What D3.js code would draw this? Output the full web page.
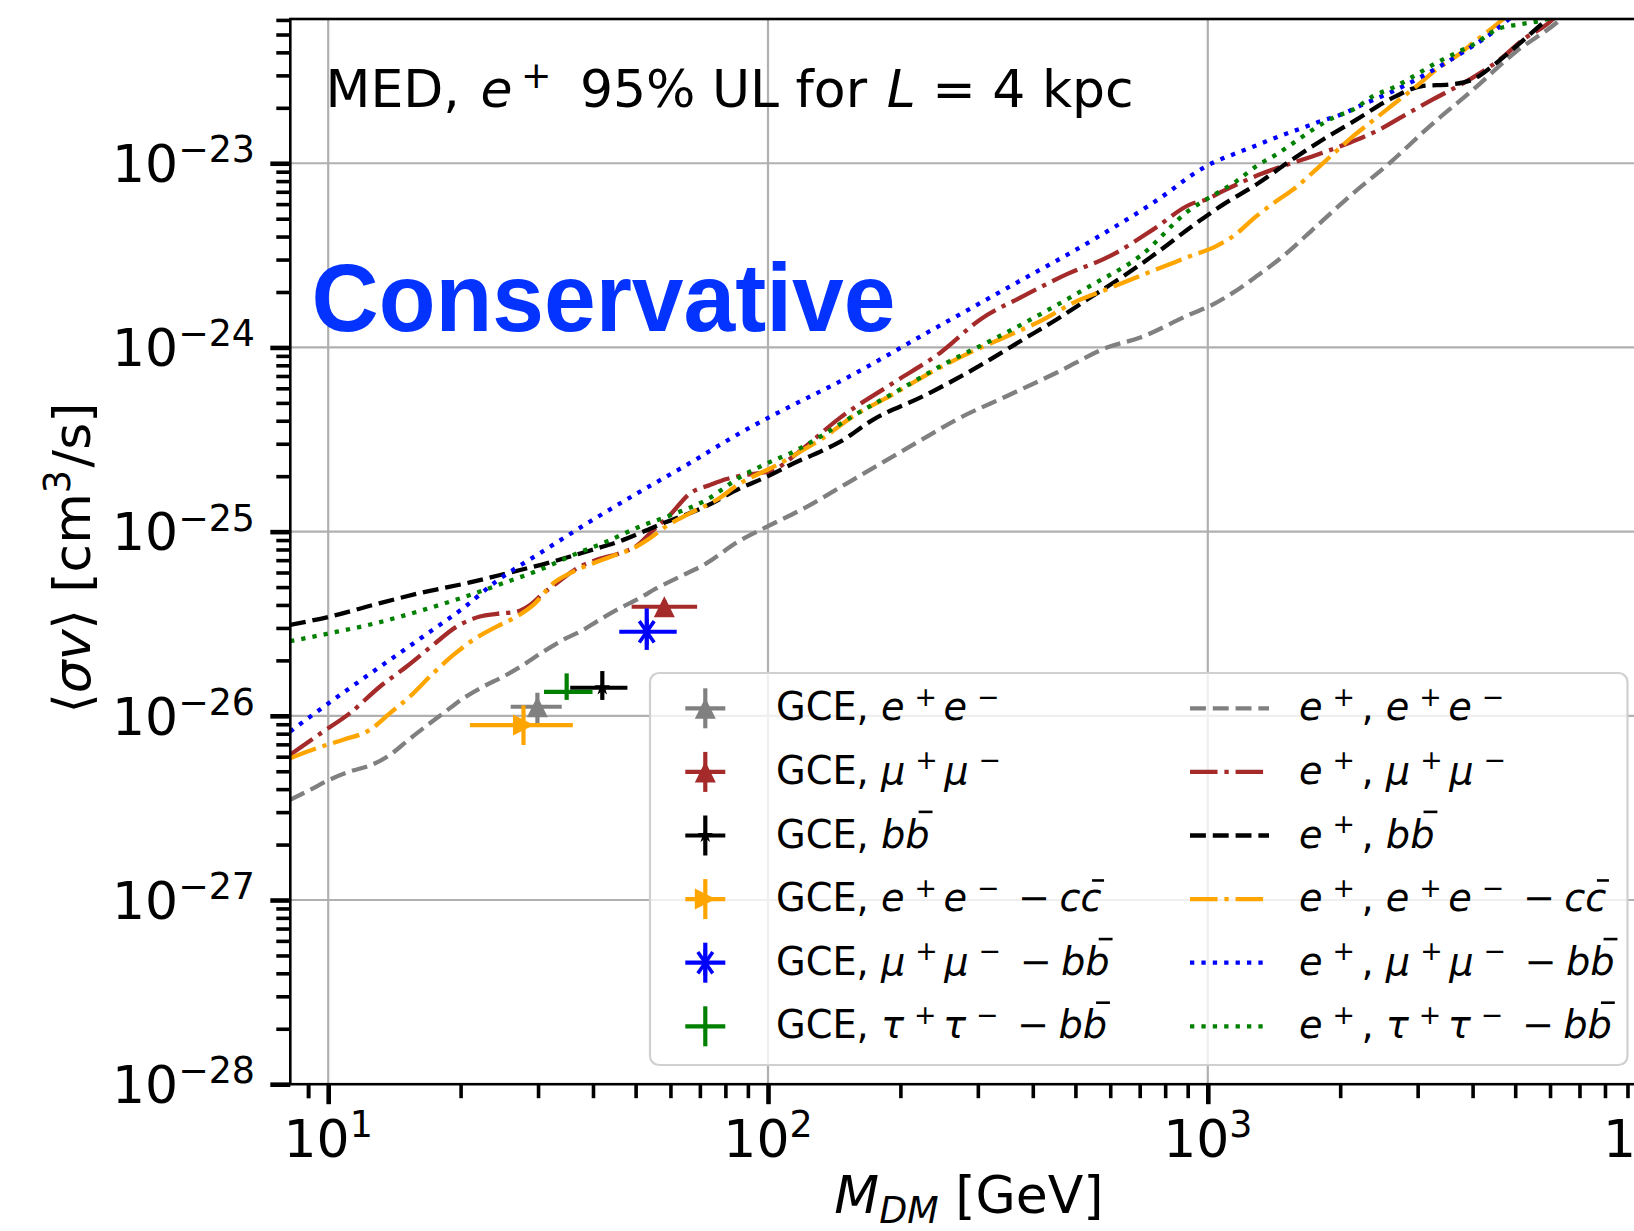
<!DOCTYPE html>
<html>
<head>
<meta charset="utf-8">
<script src="https://cdn.jsdelivr.net/npm/d3@7/dist/d3.min.js"></script>
<style>
html,body{margin:0;padding:0;background:#fff;overflow:hidden;}
svg{display:block;}
</style>
</head>
<body>
<svg id="chart" width="1634" height="1231" xmlns="http://www.w3.org/2000/svg"></svg>
<script>
// ---------------- data ----------------
const xDomain = [8.2, 1e4];
const yDomain = [1e-28, 6.07e-23];
const xMajorTicks = [10, 100, 1000, 10000];
const xTickExps = ['1', '2', '3', '4'];
const yMajorTicks = [1e-28, 1e-27, 1e-26, 1e-25, 1e-24, 1e-23];
const yTickExps = ['−28', '−27', '−26', '−25', '−24', '−23'];

// e+ upper limits [M_DM (GeV), <sigma v> (cm^3/s)]
const ulEE = [[8.19,3.50e-27],[9.09,3.96e-27],[10.0,4.46e-27],[11.21,4.99e-27],[12.56,5.42e-27],[13.82,6.14e-27],[15.08,7.26e-27],[16.46,8.57e-27],[18.27,1.033e-26],[20.29,1.246e-26],[22.53,1.442e-26],[25.01,1.633e-26],[27.78,1.89e-26],[30.84,2.23e-26],[34.25,2.59e-26],[38.03,2.93e-26],[40.77,3.25e-26],[45.28,3.76e-26],[50.28,4.27e-26],[55.84,4.93e-26],[63.1,5.70e-26],[72.55,6.74e-26],[84.9,8.73e-26],[99.5,1.064e-25],[122.7,1.367e-25],[151.2,1.83e-25],[186.5,2.45e-25],[229.9,3.28e-25],[269,4.07e-25],[349.5,5.45e-25],[454,7.31e-25],[589.9,9.98e-25],[702.3,1.132e-24],[912.7,1.514e-24],[1012,1.68e-24],[1144,1.99e-24],[1292,2.44e-24],[1486,3.14e-24],[1769,4.57e-24],[2107,6.65e-24],[2598,1.009e-23],[3203,1.596e-23],[4019,2.52e-23],[5042,4.07e-23],[6217,5.81e-23],[6783,7.0e-23]];
const ulMuMu = [[8.19,6.14e-27],[9.75,8.22e-27],[11.21,1.035e-26],[13.12,1.443e-26],[15.08,1.853e-26],[17.34,2.43e-26],[19.59,3.05e-26],[22.14,3.46e-26],[24.16,3.58e-26],[26.83,3.68e-26],[28.77,4.0e-26],[30.84,4.63e-26],[33.07,5.25e-26],[37.37,6.47e-26],[40.78,7.03e-26],[46.08,7.64e-26],[50.28,8.37e-26],[54.87,1.021e-25],[59.86,1.232e-25],[66.5,1.615e-25],[73.8,1.79e-25],[80.5,1.93e-25],[86.4,2.01e-25],[92.8,2.06e-25],[103,2.16e-25],[116.4,2.66e-25],[146,4.16e-25],[193.1,6.44e-25],[246.5,9.37e-25],[303.9,1.42e-24],[381.4,1.905e-24],[478.4,2.50e-24],[600.2,3.14e-24],[753.3,4.39e-24],[912.7,5.98e-24],[994.8,6.38e-24],[1085,7.08e-24],[1315,8.71e-24],[1566,1.009e-23],[1739,1.096e-23],[1965,1.217e-23],[2182,1.34e-23],[2465,1.53e-23],[2786,1.81e-23],[3203,2.18e-23],[3949,2.86e-23],[4621,3.67e-23],[5221,4.71e-23],[5900,5.68e-23],[6326,6.58e-23]];
const ulBB = [[8.19,3.12e-26],[10.1,3.46e-26],[12.66,4.0e-26],[16.17,4.64e-26],[21.01,5.30e-26],[25.9,6.0e-26],[31.9,6.8e-26],[39.4,7.9e-26],[46.9,9.02e-26],[55.8,1.074e-25],[72.5,1.38e-25],[86.4,1.72e-25],[99.5,1.99e-25],[114.4,2.35e-25],[131.5,2.72e-25],[146,3.08e-25],[173.9,4.07e-25],[225.9,5.45e-25],[293.5,7.62e-25],[381.4,1.109e-24],[454,1.423e-24],[540.6,1.866e-24],[643.9,2.445e-24],[766.7,3.27e-24],[912.7,4.48e-24],[1085,5.98e-24],[1292,7.69e-24],[1539,1.03e-23],[1832,1.35e-23],[2182,1.73e-23],[2598,2.23e-23],[3093,2.63e-23],[3556,2.68e-23],[4019,2.86e-23],[4540,3.52e-23],[5042,4.34e-23],[5797,5.81e-23],[6217,6.7e-23]];
const ulEECC = [[8.19,5.89e-27],[9.41,6.67e-27],[10.82,7.41e-27],[12.45,8.40e-27],[13.82,1.035e-26],[15.35,1.274e-26],[17.34,1.706e-26],[19.26,2.14e-26],[21.38,2.59e-26],[24.16,3.05e-26],[26.83,3.46e-26],[29.28,4.0e-26],[32.5,5.25e-26],[36.1,6.07e-26],[40.1,6.74e-26],[44.5,7.39e-26],[49.4,8.13e-26],[53.9,9.21e-26],[58.9,1.074e-25],[66.5,1.259e-25],[76.5,1.489e-25],[86.4,1.83e-25],[96.1,2.08e-25],[106.7,2.35e-25],[118.4,2.72e-25],[131.5,3.15e-25],[156.6,4.25e-25],[189.7,5.46e-25],[238.1,7.46e-25],[293.5,9.58e-25],[343.4,1.13e-24],[416,1.39e-24],[495.5,1.75e-24],[590,2.07e-24],[702.3,2.45e-24],[896.9,3.08e-24],[1048,3.56e-24],[1144,4.03e-24],[1292,5.18e-24],[1435,6.25e-24],[1566,7.22e-24],[1800,9.68e-24],[2144,1.407e-23],[2339,1.66e-23],[2644,2.09e-23],[2987,2.63e-23],[3317,3.24e-23],[3683,3.83e-23],[4019,4.52e-23],[4540,5.68e-23],[4786,6.3e-23]];
const ulMuBB = [[8.19,8.22e-27],[10.0,1.167e-26],[12.66,1.74e-26],[16.46,2.70e-26],[20.29,3.85e-26],[24.1,5.37e-26],[30.3,7.64e-26],[39.4,1.135e-25],[51.2,1.65e-25],[66.5,2.36e-25],[86.4,3.43e-25],[100.3,4.16e-25],[153.9,7.0e-25],[233.9,1.23e-24],[361.9,2.2e-24],[550.2,3.86e-24],[821.8,7.08e-24],[912.7,8.53e-24],[1030,1.009e-23],[1144,1.12e-23],[1292,1.253e-23],[1448,1.397e-23],[1622,1.54e-23],[1816,1.70e-23],[2017,1.845e-23],[2258,2.09e-23],[2598,2.42e-23],[2987,2.86e-23],[3434,3.45e-23],[3949,4.24e-23],[4386,5.01e-23],[4786,5.93e-23],[5042,6.58e-23]];
const ulTauBB = [[8.19,2.54e-26],[10.1,2.81e-26],[12.66,3.16e-26],[16.46,3.76e-26],[20.29,4.40e-26],[25.0,5.25e-26],[30.3,6.21e-26],[36.1,7.48e-26],[43.0,8.84e-26],[51.2,1.067e-25],[61.0,1.245e-25],[72.5,1.489e-25],[86.4,1.977e-25],[99.5,2.35e-25],[114.4,2.72e-25],[131.5,3.28e-25],[153.9,4.16e-25],[200,5.93e-25],[255.3,8.28e-25],[326,1.109e-24],[416,1.514e-24],[540.6,2.16e-24],[702.3,3.14e-24],[912.7,5.62e-24],[1039,6.79e-24],[1164,8.02e-24],[1292,9.68e-24],[1435,1.12e-23],[1566,1.29e-23],[1739,1.53e-23],[1931,1.77e-23],[2144,1.96e-23],[2381,2.32e-23],[2644,2.58e-23],[2987,3.04e-23],[3317,3.52e-23],[3683,3.99e-23],[4089,4.52e-23],[4540,5.33e-23],[5131,5.68e-23],[5697,5.93e-23],[6220,6.3e-23]];

// GCE best-fit points: order e+e-, mu+mu-, bb, e+e- - cc, mu+mu- - bb, tau+tau- - bb
const gceMass   = [29.9, 58.1, 42.0, 27.8, 53.0, 34.85];
const gceMassLo = [26.0, 48.97, 35.5, 21.0, 45.9, 30.95];
const gceMassHi = [33.96, 69.0, 47.9, 36.0, 62.0, 39.9];
const gceSv     = [1.12e-26, 3.91e-26, 1.42e-26, 0.891e-26, 2.86e-26, 1.35e-26];
const gceSvLo   = [0.873e-26, 3.6e-26, 1.22e-26, 0.694e-26, 2.28e-26, 1.22e-26];
const gceSvHi   = [1.334e-26, 4.25e-26, 1.75e-26, 1.14e-26, 3.83e-26, 1.70e-26];

// ---------------- setup ----------------
const FONT = "'DejaVu Sans', 'Noto Sans', sans-serif";
const svg = d3.select('#chart');
const x = d3.scaleLog().domain(xDomain).range([290.3, 1647.6]);
const y = d3.scaleLog().domain(yDomain).range([1084.2, 19]);
const pL = x.range()[0], pR = x.range()[1], pT = y.range()[1], pB = y.range()[0];

const LW = 4.3;
const DASHED = [3.7*LW, 1.6*LW].join(',');
const DASHDOT = [6.4*LW, 1.6*LW, 1*LW, 1.6*LW].join(',');
const DOTTED = [1*LW, 1.65*LW].join(',');

// rich text helper
function N(t, dx){return {t, dx};}
function I(t, dx){return {t, it:true, dx};}
function S(t){return {t, sup:true};}
function Sub(t){return {t, sub:true, it:true};}
function B(t, h){return {t, it:true, bar:h};}

function rich(parent, textSel, segs, fs, extra) {
  extra = extra || {};
  let shift = 0, idx = 0, prev = null;
  const bars = [];
  segs.forEach(s => {
    const script = s.sup || s.sub;
    const size = script ? fs*0.7 : fs;
    const target = s.sup ? -0.38*fs : (s.sub ? 0.2*fs : 0);
    const ts = textSel.append('tspan').text(s.t).attr('font-size', size);
    const dy = target - shift;
    if (dy) ts.attr('dy', dy);
    let dx = 0;
    if (s.sup && prev && prev.it) dx += (extra.supDx != null ? extra.supDx : 0.26)*fs;
    if (prev && prev.sup && !s.sup) dx += (extra.afterSup != null ? extra.afterSup : 0.17)*fs;
    if (s.dx) dx += s.dx*fs;
    if (dx) ts.attr('dx', dx);
    if (s.it) ts.attr('font-style', 'italic');
    if (s.bar) bars.push({idx, n: s.t.length, h: s.bar});
    idx += s.t.length; shift = target; prev = s;
  });
  const node = textSel.node();
  bars.forEach(b => {
    const st = node.getStartPositionOfChar(b.idx);
    const en = node.getEndPositionOfChar(b.idx + b.n - 1);
    const w = en.x - st.x;
    parent.append('line')
      .attr('x1', st.x + 0.55*w).attr('x2', st.x + 1.12*w)
      .attr('y1', st.y - b.h*fs).attr('y2', st.y - b.h*fs)
      .attr('stroke', '#000').attr('stroke-width', 2.6);
  });
}

// clip
svg.append('defs').append('clipPath').attr('id', 'plotclip')
  .append('rect').attr('x', pL).attr('y', pT).attr('width', pR - pL).attr('height', pB - pT);

// ---------------- grid ----------------
const grid = svg.append('g').attr('clip-path', 'url(#plotclip)');
grid.selectAll('line.gx').data(xMajorTicks).join('line').attr('class', 'gx')
  .attr('x1', d => x(d)).attr('x2', d => x(d)).attr('y1', pT).attr('y2', pB)
  .attr('stroke', '#b0b0b0').attr('stroke-width', 2.2);
grid.selectAll('line.gy').data(yMajorTicks).join('line').attr('class', 'gy')
  .attr('y1', d => y(d)).attr('y2', d => y(d)).attr('x1', pL).attr('x2', pR)
  .attr('stroke', '#b0b0b0').attr('stroke-width', 2.2);

// ---------------- curves ----------------
const curves = [
  {data: ulEE,    color: '#808080', dash: DASHED},
  {data: ulMuMu,  color: '#a52a2a', dash: DASHDOT},
  {data: ulBB,    color: '#000000', dash: DASHED},
  {data: ulEECC,  color: '#ffa500', dash: DASHDOT},
  {data: ulMuBB,  color: '#0000ff', dash: DOTTED},
  {data: ulTauBB, color: '#008000', dash: DOTTED}
];
const lineGen = d3.line().x(d => x(d[0])).y(d => y(d[1])).curve(d3.curveMonotoneX);
const cg = svg.append('g').attr('clip-path', 'url(#plotclip)');
curves.forEach(c => {
  cg.append('path').attr('d', lineGen(c.data)).attr('fill', 'none')
    .attr('stroke', c.color).attr('stroke-width', LW).attr('stroke-dasharray', c.dash)
    .attr('stroke-linecap', 'butt').attr('stroke-linejoin', 'round');
});

// ---------------- markers ----------------
const gceColors = ['#808080', '#a52a2a', '#000000', '#ffa500', '#0000ff', '#008000'];
const gceMarkers = ['tri', 'tri', 'star', 'right', 'aster', 'none'];
function drawMarker(g, type, cx, cy, color) {
  const s = 21, h = s/2;
  if (type === 'tri') {
    g.append('path').attr('d', `M${cx},${cy-h}L${cx-h},${cy+h}L${cx+h},${cy+h}Z`).attr('fill', color);
  } else if (type === 'right') {
    g.append('path').attr('d', `M${cx+h},${cy}L${cx-h},${cy-h}L${cx-h},${cy+h}Z`).attr('fill', color);
  } else if (type === 'star') {
    g.append('path').attr('d', d3.symbol(d3.symbolStar, 75)()).attr('transform', `translate(${cx},${cy})`).attr('fill', color);
  } else if (type === 'aster') {
    const r = 13, a = 35*Math.PI/180;
    const dx = r*Math.sin(a), dy = r*Math.cos(a);
    g.append('path').attr('d', `M${cx-dx},${cy-dy}L${cx+dx},${cy+dy}M${cx+dx},${cy-dy}L${cx-dx},${cy+dy}M${cx},${cy-r}L${cx},${cy+r}`)
      .attr('stroke', color).attr('stroke-width', 3.6).attr('fill', 'none');
  }
}
const pg = svg.append('g').attr('clip-path', 'url(#plotclip)');
gceMass.forEach((m, i) => {
  const g = pg.append('g');
  const c = gceColors[i];
  g.append('line').attr('x1', x(gceMassLo[i])).attr('x2', x(gceMassHi[i])).attr('y1', y(gceSv[i])).attr('y2', y(gceSv[i]))
    .attr('stroke', c).attr('stroke-width', 4.2);
  g.append('line').attr('x1', x(m)).attr('x2', x(m)).attr('y1', y(gceSvLo[i])).attr('y2', y(gceSvHi[i]))
    .attr('stroke', c).attr('stroke-width', 4.2);
  drawMarker(g, gceMarkers[i], x(m), y(gceSv[i]), c);
});

// ---------------- texts inside plot ----------------
const title = svg.append('text').attr('x', 325.6).attr('y', 107.3).attr('font-family', FONT).attr('font-size', 52).attr('fill', '#000');
rich(svg, title, [N('MED, '), I('e', 0.08), S('+'), N(' 95% UL for '), I('L', 0.06), N(' = 4 kpc')], 52, {supDx: 0.16, afterSup: 0.23});

svg.append('text').attr('x', 311.5).attr('y', 330.7)
  .attr('font-family', "'Liberation Sans', Arial, Helvetica, sans-serif").attr('font-weight', 'bold')
  .attr('font-size', 96).attr('fill', '#0433ff')
  .attr('textLength', 584).attr('lengthAdjust', 'spacingAndGlyphs')
  .text('Conservative');

// ---------------- legend ----------------
const leg = svg.append('g');
leg.append('rect').attr('x', 650).attr('y', 673).attr('width', 977.5).attr('height', 392).attr('rx', 9)
  .attr('fill', 'rgba(255,255,255,0.8)').attr('stroke', '#d0d0d0').attr('stroke-width', 2.2);
const LFS = 38.3;
const bB = 0.93, bC = 0.8;
const MINUS = ' −';
const gceLabels = [
  [N('GCE, '), I('e'), S('+'), I('e'), S('−')],
  [N('GCE, '), I('μ'), S('+'), I('μ'), S('−')],
  [N('GCE, '), I('b'), B('b', bB)],
  [N('GCE, '), I('e'), S('+'), I('e'), S('−'), N(MINUS), I('c', 0.24), B('c', bC)],
  [N('GCE, '), I('μ'), S('+'), I('μ'), S('−'), N(MINUS), I('b', 0.24), B('b', bB)],
  [N('GCE, '), I('τ'), S('+'), I('τ'), S('−'), N(MINUS), I('b', 0.24), B('b', bB)]
];
const ulLabels = [
  [I('e'), S('+'), N(', '), I('e'), S('+'), I('e'), S('−')],
  [I('e'), S('+'), N(', '), I('μ'), S('+'), I('μ'), S('−')],
  [I('e'), S('+'), N(', '), I('b'), B('b', bB)],
  [I('e'), S('+'), N(', '), I('e'), S('+'), I('e'), S('−'), N(MINUS), I('c', 0.24), B('c', bC)],
  [I('e'), S('+'), N(', '), I('μ'), S('+'), I('μ'), S('−'), N(MINUS), I('b', 0.24), B('b', bB)],
  [I('e'), S('+'), N(', '), I('τ'), S('+'), I('τ'), S('−'), N(MINUS), I('b', 0.24), B('b', bB)]
];
gceLabels.forEach((lab, i) => {
  const cy = 708.3 + i*63.6;
  const mx = 705.3;
  const c = gceColors[i];
  leg.append('line').attr('x1', mx - 20).attr('x2', mx + 20).attr('y1', cy).attr('y2', cy).attr('stroke', c).attr('stroke-width', 4.2);
  leg.append('line').attr('x1', mx).attr('x2', mx).attr('y1', cy - 20).attr('y2', cy + 20).attr('stroke', c).attr('stroke-width', 4.2);
  drawMarker(leg, gceMarkers[i], mx, cy, c);
  const t = leg.append('text').attr('x', 776).attr('y', cy + 12).attr('font-family', FONT).attr('font-size', LFS).attr('fill', '#000');
  rich(leg, t, lab, LFS);
  // line sample
  const cv = curves[i];
  leg.append('line').attr('x1', 1190).attr('x2', 1269).attr('y1', cy).attr('y2', cy)
    .attr('stroke', cv.color).attr('stroke-width', LW).attr('stroke-dasharray', cv.dash);
  const t2 = leg.append('text').attr('x', 1299).attr('y', cy + 12).attr('font-family', FONT).attr('font-size', LFS).attr('fill', '#000');
  rich(leg, t2, ulLabels[i], LFS);
});

// ---------------- axes ----------------
const ax = svg.append('g');
const xMinor = [], yMinor = [];
[1, 10, 100, 1000].forEach(k => { for (let m = 2; m <= 9; m++) { const v = m*k; if (v > xDomain[0] && v < xDomain[1]) xMinor.push(v); } });
[-28, -27, -26, -25, -24, -23].forEach(e => { for (let m = 2; m <= 9; m++) { const v = m*Math.pow(10, e); if (v < yDomain[1]) yMinor.push(v); } });
if (9 > xDomain[0]) xMinor.push(9);

const xAxisMaj = d3.axisBottom(x).tickValues(xMajorTicks).tickSize(20).tickFormat('').tickSizeOuter(0);
const xAxisMin = d3.axisBottom(x).tickValues(xMinor).tickSize(14).tickFormat('').tickSizeOuter(0);
const yAxisMaj = d3.axisLeft(y).tickValues(yMajorTicks).tickSize(20).tickFormat('').tickSizeOuter(0);
const yAxisMin = d3.axisLeft(y).tickValues(yMinor).tickSize(14).tickFormat('').tickSizeOuter(0);
function styleAxis(g, w) {
  g.select('.domain').remove();
  g.selectAll('line').attr('stroke', '#000').attr('stroke-width', w);
}
ax.append('g').attr('transform', `translate(0,${pB})`).call(xAxisMin).call(g => styleAxis(g, 3.6));
ax.append('g').attr('transform', `translate(0,${pB})`).call(xAxisMaj).call(g => styleAxis(g, 4.6));
ax.append('g').attr('transform', `translate(${pL},0)`).call(yAxisMin).call(g => styleAxis(g, 3.6));
ax.append('g').attr('transform', `translate(${pL},0)`).call(yAxisMaj).call(g => styleAxis(g, 4.6));

// spines
ax.append('rect').attr('x', pL).attr('y', pT).attr('width', pR - pL).attr('height', pB - pT)
  .attr('fill', 'none').attr('stroke', '#000').attr('stroke-width', 2.6);

// tick labels (the 10^4 label sits at the figure edge and is cut off, as in the original)
const TFS = 52;
xMajorTicks.forEach((v, i) => {
  const t = ax.append('text').attr('x', x(v)).attr('y', 1157).attr('text-anchor', 'middle')
    .attr('font-family', FONT).attr('font-size', TFS).attr('fill', '#000');
  rich(ax, t, [N('10'), S(xTickExps[i])], TFS);
});
yMajorTicks.forEach((v, i) => {
  const t = ax.append('text').attr('x', 255).attr('y', y(v) + 18.8).attr('text-anchor', 'end')
    .attr('font-family', FONT).attr('font-size', TFS).attr('fill', '#000');
  rich(ax, t, [N('10'), S(yTickExps[i])], TFS);
});

// axis labels
const xl = ax.append('text').attr('x', (pL + pR)/2).attr('y', 1213).attr('text-anchor', 'middle')
  .attr('font-family', FONT).attr('font-size', 52).attr('fill', '#000');
rich(ax, xl, [I('M'), Sub('DM'), N(' [GeV]')], 52);

const yl = ax.append('text').attr('transform', 'translate(90,558) rotate(-90)').attr('text-anchor', 'middle')
  .attr('font-family', FONT).attr('font-size', 52).attr('fill', '#000');
rich(ax, yl, [N('⟨'), I('σv'), N('⟩ [cm'), S('3'), N('/s]')], 52, {afterSup: 0.05});
</script>
</body>
</html>
